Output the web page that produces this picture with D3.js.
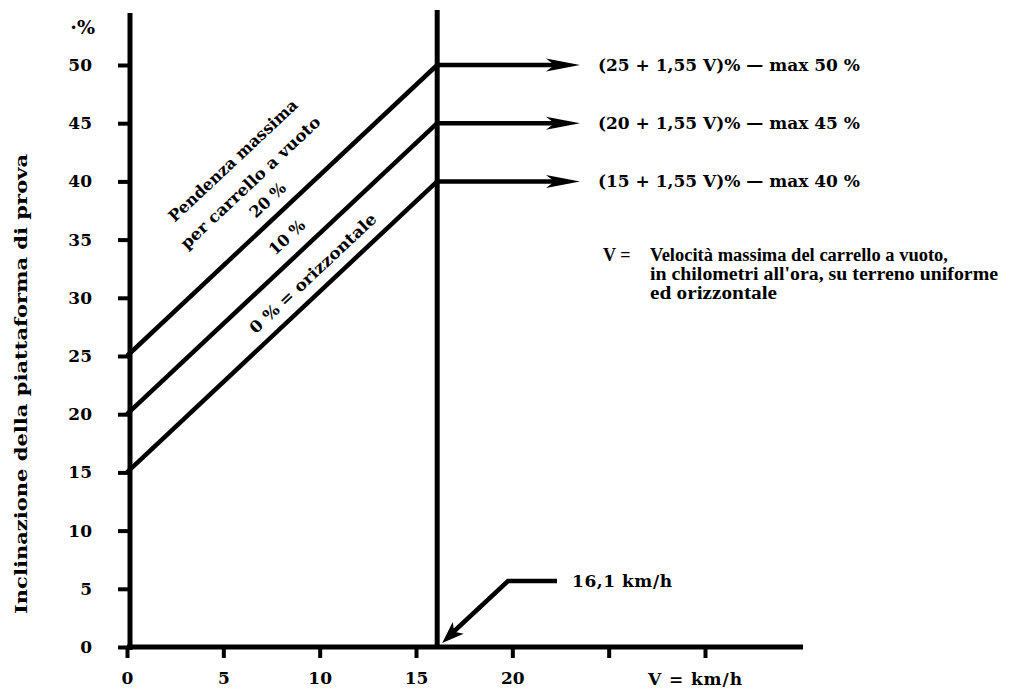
<!DOCTYPE html>
<html>
<head>
<meta charset="utf-8">
<script src="https://cdn.jsdelivr.net/npm/d3@7"></script>
<style>
  html, body { margin: 0; padding: 0; background: #fff; }
  svg text { font-family: "DejaVu Serif", "Liberation Serif", serif; font-weight: bold; fill: #000; }
</style>
</head>
<body>
<div id="chart"></div>
<script>
// values
var xTicks = [0, 5, 10, 15, 20, 25, 30];
var xTickLabels = ["0", "5", "10", "15", "20", "", ""];
var yTicks = [0, 5, 10, 15, 20, 25, 30, 35, 40, 45, 50];
var vLimit = 16.1;                 // km/h where the slopes stop
var startGrades = [25, 20, 15];    // % at V = 0
var endGrades = [50, 45, 40];      // % at V = 16,1
var formulaLabels = [
    "(25 + 1,55 V)% — max 50 %",
    "(20 + 1,55 V)% — max 45 %",
    "(15 + 1,55 V)% — max 40 %"
];
var slopeLabels = ["Pendenza massima", "per carrello a vuoto", "20 %", "10 %", "0 % = orizzontale"];
var noteLines = [
    "Velocità massima del carrello a vuoto,",
    "in chilometri all'ora, su terreno uniforme",
    "ed orizzontale"
];

var width = 1029, height = 693;

var svg = d3.select("#chart")
    .append("svg")
    .attr("width", width)
    .attr("height", height);

var x = d3.scaleLinear().domain([0, 30]).range([127, 705]);
var y = d3.scaleLinear().domain([0, 50]).range([647, 65]);

// axis lines, drawn by hand so they run past the ticks
svg.append("line")
    .attr("x1", x(0) + 3).attr("x2", x(0) + 3)
    .attr("y1", y(0) + 3).attr("y2", 13)
    .attr("stroke", "#000").attr("stroke-width", 5);
svg.append("line")
    .attr("x1", x(0)).attr("x2", 803)
    .attr("y1", y(0)).attr("y2", y(0))
    .attr("stroke", "#000").attr("stroke-width", 5);

var yAxis = d3.axisLeft(y)
    .tickValues(yTicks)
    .tickSize(12)
    .tickSizeOuter(0)
    .tickPadding(26);

var gy = svg.append("g")
    .attr("transform", "translate(" + (x(0) + 3) + ",0)")
    .call(yAxis);
gy.select(".domain").remove();
gy.selectAll(".tick line").attr("stroke", "#000").attr("stroke-width", 4);
gy.selectAll(".tick text").attr("font-size", 17);

var xAxis = d3.axisBottom(x)
    .tickValues(xTicks)
    .tickFormat(function(d, i) { return xTickLabels[i]; })
    .tickSize(11)
    .tickSizeOuter(0)
    .tickPadding(14);

var gx = svg.append("g")
    .attr("transform", "translate(0," + y(0) + ")")
    .call(xAxis);
gx.select(".domain").remove();
gx.selectAll(".tick line").attr("stroke", "#000").attr("stroke-width", 4);
gx.selectAll(".tick text").attr("font-size", 17);

svg.append("text")
    .attr("x", 95).attr("y", 34)
    .attr("text-anchor", "end")
    .attr("font-size", 19)
    .text("·%");

svg.append("text")
    .attr("x", 648).attr("y", 685)
    .attr("font-size", 17)
    .attr("textLength", 94)
    .text("V = km/h");

svg.append("text")
    .attr("transform", "translate(27,384) rotate(-90)")
    .attr("text-anchor", "middle")
    .attr("font-size", 17)
    .attr("textLength", 460)
    .attr("lengthAdjust", "spacingAndGlyphs")
    .text("Inclinazione della piattaforma di prova");

// the speed limit
svg.append("line")
    .attr("x1", x(vLimit)).attr("x2", x(vLimit))
    .attr("y1", y(0)).attr("y2", 10)
    .attr("stroke", "#000").attr("stroke-width", 5);

// the three slope lines
var slopes = startGrades.map(function(g, i) {
    return [[0, g], [vLimit, endGrades[i]]];
});
var line = d3.line()
    .x(function(d) { return x(d[0]); })
    .y(function(d) { return y(d[1]); });

svg.selectAll("path.slope")
    .data(slopes).enter()
    .append("path")
    .attr("class", "slope")
    .attr("d", line)
    .attr("fill", "none")
    .attr("stroke", "#000")
    .attr("stroke-width", 4.5);

function arrowHead(tx, ty, fx, fy, len, half) {
    var a = Math.atan2(ty - fy, tx - fx);
    var bx = tx - len * Math.cos(a), by = ty - len * Math.sin(a);
    var nx = -Math.sin(a) * half, ny = Math.cos(a) * half;
    var mx = tx - len * 0.75 * Math.cos(a), my = ty - len * 0.75 * Math.sin(a);
    return "M" + tx + "," + ty + "L" + (bx + nx) + "," + (by + ny) +
        "L" + mx + "," + my + "L" + (bx - nx) + "," + (by - ny) + "Z";
}

// arrows to the formulas
var arrowEnd = 580;
endGrades.forEach(function(g, i) {
    var yy = y(g);
    svg.append("line")
        .attr("x1", x(vLimit)).attr("x2", arrowEnd - 20)
        .attr("y1", yy).attr("y2", yy)
        .attr("stroke", "#000").attr("stroke-width", 4.5);
    svg.append("path")
        .attr("d", arrowHead(arrowEnd, yy, x(vLimit), yy, 34, 6.5))
        .attr("fill", "#000");
    svg.append("text")
        .attr("x", 598).attr("y", yy)
        .attr("dy", "0.35em")
        .attr("font-size", 17)
        .attr("textLength", 262)
        .attr("lengthAdjust", "spacingAndGlyphs")
        .text(formulaLabels[i]);
});

// labels along the slopes
var angle = -Math.atan2(y(startGrades[0]) - y(endGrades[0]), x(vLimit) - x(0)) * 180 / Math.PI;
var slopeSpots = [[5.5, 41.8], [6.4, 39.9], [7.3, 38.4], [8.3, 35.2], [9.65, 32.1]];
var slopeLengths = [170, 185, 0, 0, 167];
slopeLabels.forEach(function(t, i) {
    var p = slopeSpots[i];
    var el = svg.append("text")
        .attr("transform", "translate(" + x(p[0]) + "," + y(p[1]) + ") rotate(" + angle + ")")
        .attr("text-anchor", "middle")
        .attr("dy", "0.35em")
        .attr("font-size", 16)
        .text(t);
    if (slopeLengths[i]) el.attr("textLength", slopeLengths[i]).attr("lengthAdjust", "spacingAndGlyphs");
});

// note on V
svg.append("text")
    .attr("x", 603).attr("y", 255)
    .attr("dy", "0.35em")
    .attr("font-size", 18)
    .style("font-family", "'Liberation Serif', serif")
    .text("V =");
noteLines.forEach(function(t, i) {
    svg.append("text")
        .attr("x", 650).attr("y", 255 + i * 19)
        .attr("dy", "0.35em")
        .attr("font-size", 18)
        .attr("textLength", [298, 348, 127][i])
        .attr("lengthAdjust", "spacingAndGlyphs")
        .style("font-family", "'Liberation Serif', serif")
        .text(t);
});

// 16,1 km/h callout
var tipX = x(vLimit) + 5, tipY = y(0) - 4;
svg.append("path")
    .attr("d", "M557," + (y(0) - 66) + "L508," + (y(0) - 66) + "L" + (tipX + 10) + "," + (tipY - 10))
    .attr("fill", "none")
    .attr("stroke", "#000")
    .attr("stroke-width", 4.5);
svg.append("path")
    .attr("d", arrowHead(tipX, tipY, 508, y(0) - 66, 22, 8))
    .attr("fill", "#000");
svg.append("text")
    .attr("x", 572).attr("y", y(0) - 66)
    .attr("dy", "0.35em")
    .attr("font-size", 17)
    .attr("textLength", 100)
    .text("16,1 km/h");
</script>
</body>
</html>
